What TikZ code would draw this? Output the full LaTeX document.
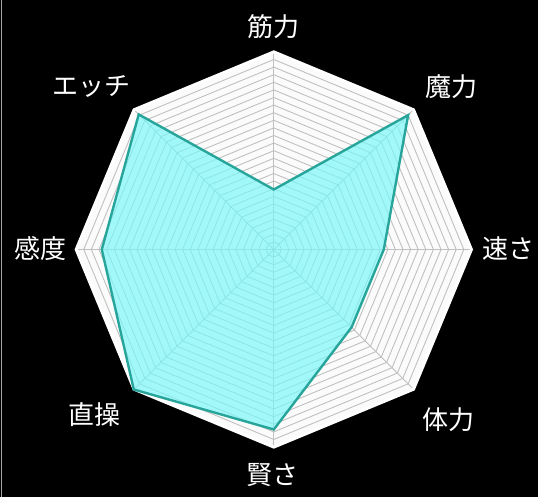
\documentclass[tikz,border=0pt]{standalone}
\usepackage{fontspec}
\newfontfamily\jp{Noto Sans CJK JP}
\definecolor{ringgray}{RGB}{192,192,192}
\definecolor{webbg}{RGB}{251,251,251}
\definecolor{cyanfill}{RGB}{120,248,248}
\definecolor{tealline}{RGB}{40,165,155}
\tikzset{
  axislabel/.style={text=white, font=\jp\fontsize{26}{30}\selectfont, inner sep=0pt},
  ringline/.style={draw=ringgray, line width=0.9pt},
  datapoly/.style={fill=cyanfill, fill opacity=0.68, draw=tealline, line width=2.4pt, line join=miter}
}
\begin{document}
\begin{tikzpicture}[x=1pt,y=1pt]
\fill[black] (0,0) rectangle (538,497);
\useasboundingbox (0,0) rectangle (538,497);
\draw[gray!70, line width=1pt] (1.5,0) -- (1.5,497);
\begin{scope}[shift={(273.8,247.5)}]
  % background octagon
  \fill[webbg] (90:197.6) -- (45:197.6) -- (0:197.6) -- (-45:197.6) -- (-90:197.6) -- (-135:197.6) -- (180:197.6) -- (135:197.6) -- cycle;
  % rings
  \foreach \k in {1,...,25}{
    \pgfmathsetmacro{\r}{\k*7.6}
    \draw[ringline] (90:\r) -- (45:\r) -- (0:\r) -- (-45:\r) -- (-90:\r) -- (-135:\r) -- (180:\r) -- (135:\r) -- cycle;
  }
  % axes
  \foreach \a in {90,45,0,-45,-90,-135,180,135}{
    \draw[ringline] (0,0) -- (\a:197.6);
  }
  % outer border
  \draw[white, line width=3pt] (90:197.6) -- (45:197.6) -- (0:197.6) -- (-45:197.6) -- (-90:197.6) -- (-135:197.6) -- (180:197.6) -- (135:197.6) -- cycle;
  % data
  \coordinate (p1) at (90:60);
  \coordinate (p2) at (45:190);
  \coordinate (p3) at (0:110);
  \coordinate (p4) at (-45:110);
  \coordinate (p5) at (-90:180);
  \coordinate (p6) at (-135:198);
  \coordinate (p7) at (180:172);
  \coordinate (p8) at (135:191);
  \draw[datapoly] (p1) -- (p2) -- (p3) -- (p4) -- (p5) -- (p6) -- (p7) -- (p8) -- cycle;
\end{scope}
\node[axislabel] (kinryoku) at (273,470) {筋力};
\node[axislabel] (maryoku) at (451,410) {魔力};
\node[axislabel] (ecchi) at (91,411) {エッチ};
\node[axislabel] (hayasa) at (508,248) {速さ};
\node[axislabel] (kando) at (40,248) {感度};
\node[axislabel] (chokusou) at (94,82) {直操};
\node[axislabel] (tairyoku) at (448,77) {体力};
\node[axislabel] (kashikosa) at (272,22) {賢さ};
\end{tikzpicture}
\end{document}
